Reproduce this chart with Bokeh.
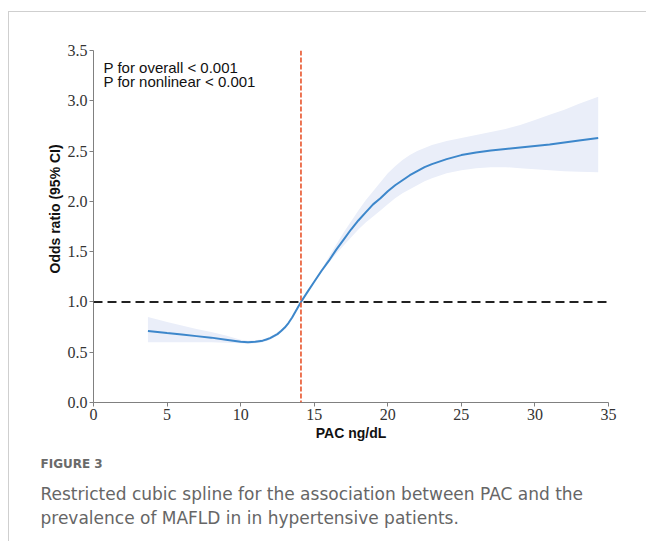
from bokeh.plotting import figure
from bokeh.models import Range1d, FixedTicker, Span, Label, ColumnDataSource, Title
from bokeh.embed import file_html
from bokeh.resources import INLINE

# ---- data ----
pac = [3.7, 5, 6, 7, 8, 9, 10, 10.5, 11, 11.5, 11.75, 12, 12.25, 12.5, 12.75, 13,
       13.25, 13.5, 13.75, 14.1, 14.5, 15, 15.5, 16, 16.5, 17, 17.5, 18, 18.5, 19,
       19.5, 20, 20.5, 21, 21.5, 22, 22.5, 23, 24, 25, 26, 27, 28, 29, 30, 31,
       32, 33, 34.3]
odds = [0.71, 0.69, 0.675, 0.66, 0.645, 0.625, 0.605, 0.60, 0.603, 0.615, 0.627,
        0.64, 0.66, 0.68, 0.71, 0.745, 0.79, 0.845, 0.91, 1.00, 1.09, 1.20, 1.31,
        1.41, 1.52, 1.62, 1.72, 1.81, 1.89, 1.97, 2.03, 2.10, 2.16, 2.21, 2.26,
        2.30, 2.34, 2.37, 2.42, 2.46, 2.485, 2.505, 2.52, 2.535, 2.55, 2.565,
        2.585, 2.605, 2.63]
ci_low = [0.60, 0.60, 0.60, 0.60, 0.60, 0.595, 0.59, 0.585, 0.588, 0.60, 0.612,
          0.625, 0.645, 0.665, 0.695, 0.73, 0.78, 0.835, 0.905, 1.00, 1.085, 1.19,
          1.295, 1.39, 1.48, 1.56, 1.64, 1.72, 1.79, 1.85, 1.91, 1.97, 2.03, 2.08,
          2.12, 2.16, 2.20, 2.23, 2.28, 2.31, 2.33, 2.34, 2.34, 2.33, 2.32, 2.31,
          2.30, 2.295, 2.29]
ci_high = [0.85, 0.80, 0.765, 0.73, 0.70, 0.665, 0.625, 0.615, 0.618, 0.63, 0.642,
           0.655, 0.675, 0.695, 0.725, 0.76, 0.80, 0.855, 0.915, 1.00, 1.095, 1.21,
           1.325, 1.45, 1.57, 1.69, 1.80, 1.91, 2.01, 2.10, 2.19, 2.28, 2.35, 2.41,
           2.46, 2.50, 2.53, 2.56, 2.60, 2.63, 2.66, 2.69, 2.72, 2.76, 2.81, 2.86,
           2.91, 2.97, 3.04]
cutoff_pac = 14.1
reference_or = 1.0
x_ticks = [0, 5, 10, 15, 20, 25, 30, 35]
y_ticks = [0.0, 0.5, 1.0, 1.5, 2.0, 2.5, 3.0, 3.5]
y_tick_labels = ["0.0", "0.5", "1.0", "1.5", "2.0", "2.5", "3.0", "3.5"]
annot_lines = ["P for overall < 0.001", "P for nonlinear < 0.001"]
x_title = "PAC ng/dL"
y_title = "Odds ratio (95% CI)"
fig_label = "FIGURE 3"
caption_lines = ["Restricted cubic spline for the association between PAC and the",
                 "prevalence of MAFLD in in hypertensive patients."]

# ---- figure ----
W, H = 638, 530
ML, MR, MT, MB = 84, 39, 38, 140
p = figure(width=W, height=H, output_backend="svg", toolbar_location=None,
           x_range=Range1d(0, 35), y_range=Range1d(0, 3.5),
           min_border_left=ML, min_border_right=MR, min_border_top=MT,
           min_border_bottom=MB)
p.outline_line_color = None
p.xgrid.visible = False
p.ygrid.visible = False
p.background_fill_color = "white"
p.border_fill_color = "white"
p.styles = {"border-top": "1px solid #cfcfcf", "border-left": "1px solid #cfcfcf",
            "margin-left": "8px", "margin-top": "11px"}

fw, fh = W - ML - MR, H - MT - MB
px_x = 35 / fw
px_y = 3.5 / fh

src = ColumnDataSource(dict(x=pac, y=odds, lo=ci_low, hi=ci_high))
p.varea(x="x", y1="lo", y2="hi", source=src, fill_color="#eaeef9", fill_alpha=1.0)
p.line(x="x", y="y", source=src, line_color="#3d87cb", line_width=2)

p.add_layout(Span(location=reference_or, dimension="width", line_color="#222222",
                  line_dash="9 5", line_width=2))
p.add_layout(Span(location=cutoff_pac, dimension="height", line_color="#e8542b",
                  line_dash="5 2", line_width=1.6))

for ax in (p.xaxis[0], p.yaxis[0]):
    ax.axis_line_color = "#808080"
    ax.axis_line_width = 1
    ax.major_tick_line_color = "#808080"
    ax.major_tick_out = 4
    ax.major_tick_in = 0
    ax.minor_tick_line_color = None
    ax.major_label_text_font = "Liberation Serif"
    ax.major_label_text_font_size = "16px"
    ax.major_label_text_color = "#333333"
    ax.axis_label_text_font = "Liberation Sans"
    ax.axis_label_text_font_style = "bold"
    ax.axis_label_text_font_size = "14px"
    ax.axis_label_text_color = "#111111"
p.xaxis.ticker = FixedTicker(ticks=x_ticks)
p.yaxis.ticker = FixedTicker(ticks=y_ticks)
p.yaxis.major_label_overrides = {t: l for t, l in zip(y_ticks, y_tick_labels)}
p.xaxis.major_label_standoff = 2
p.yaxis.major_label_standoff = 2
p.xaxis.axis_label = x_title
p.xaxis.axis_label_standoff = 2

# y-axis title, starting above the frame bottom as in the reference
p.add_layout(Title(text=y_title, align="left", offset=129, standoff=3,
                   text_font="Liberation Sans", text_font_style="bold",
                   text_font_size="14px", text_color="#111111"), "left")

# annotation text inside the plot
for i, t in enumerate(annot_lines):
    p.add_layout(Label(x=10 * px_x, y=(335 - 13.5 * i) * px_y, text=t,
                       text_font="Liberation Sans", text_font_size="15px",
                       text_color="#111111", text_baseline="alphabetic"))

# caption as titles below the axis
p.add_layout(Title(text=fig_label, align="left", offset=-53, standoff=22,
                   text_font="DejaVu Sans", text_font_size="12px",
                   text_font_style="bold", text_color="#6a6a6a"), "below")
for i, t in enumerate(caption_lines):
    p.add_layout(Title(text=t, align="left", offset=-53, standoff=(0 if i == 0 else 5),
                       text_font="DejaVu Sans", text_font_size="17px",
                       text_font_style="normal", text_color="#666666"), "below")

open("out.html", "w").write(file_html(p, INLINE))
